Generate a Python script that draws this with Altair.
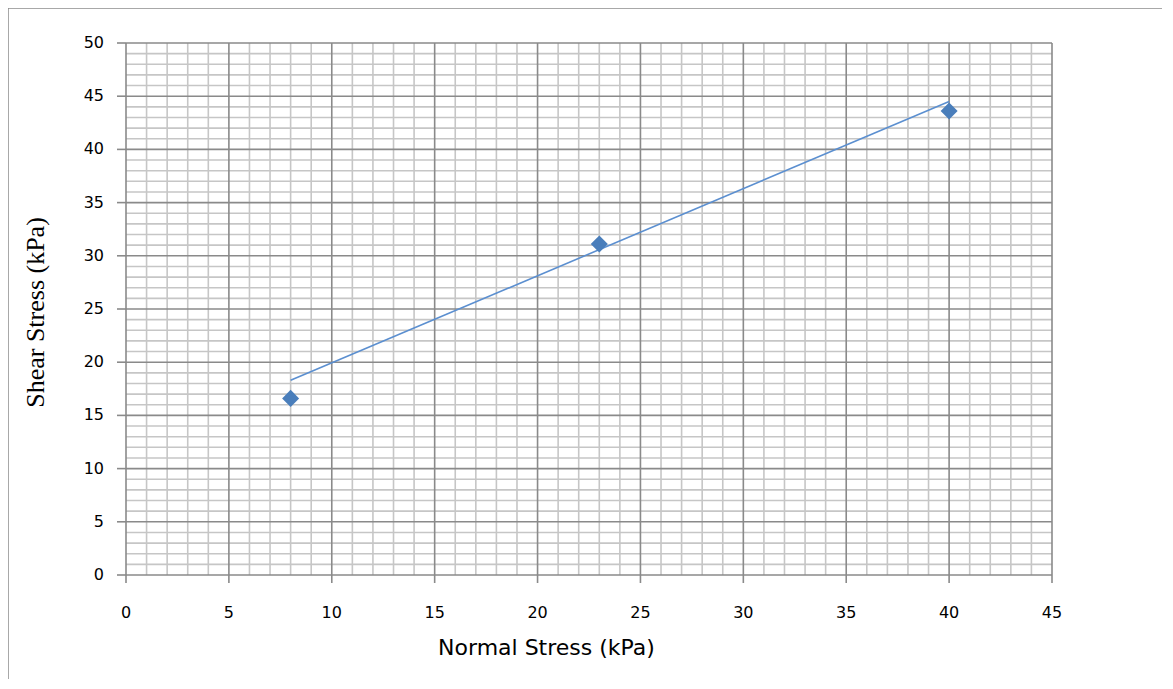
import altair as alt
import pandas as pd

# Data
normal_stress = [8, 23, 40]
shear_stress = [16.6, 31.1, 43.6]

# Trendline endpoints as drawn in the chart
trend_x = [8, 40]
trend_y = [18.3, 44.5]

# Axis tick values
x_major = list(range(0, 46, 5))
y_major = list(range(0, 51, 5))
x_minor = [v for v in range(0, 46) if v % 5]
y_minor = [v for v in range(0, 51) if v % 5]

W, H = 926, 532

pts = pd.DataFrame({"x": normal_stress, "y": shear_stress})
trend = pd.DataFrame({"x": trend_x, "y": trend_y})

x_scale = alt.Scale(domain=[0, 45], nice=False, zero=True)
y_scale = alt.Scale(domain=[0, 50], nice=False, zero=True)

MINOR = "#c6c6c6"
MAJOR = "#8a8a8a"

x_axis = alt.Axis(
    labels=False, ticks=False, domain=False, grid=False,
    title="Normal Stress (kPa)",
    titleFont="DejaVu Sans",
    titleFontSize=22,
    titleFontWeight="normal",
    titleColor="#000000",
    titleX=420,
    titleY=72,
    titleBaseline="middle",
    titleAnchor="middle",
)

y_axis = alt.Axis(
    labels=False, ticks=False, domain=False, grid=False,
    title="Shear Stress (kPa)",
    titleFont="Liberation Serif",
    titleFontSize=26,
    titleFontWeight="normal",
    titleColor="#000000",
    titleX=-91,
    titleY=269,
    titleAngle=-90,
    titleBaseline="middle",
    titleAnchor="middle",
)

def vrules(vals, color):
    return alt.Chart(pd.DataFrame({"x": vals})).mark_rule(color=color, strokeWidth=1.6).encode(
        x=alt.X("x:Q", scale=x_scale, axis=x_axis)
    )

def hrules(vals, color):
    return alt.Chart(pd.DataFrame({"y": vals})).mark_rule(color=color, strokeWidth=1.6).encode(
        y=alt.Y("y:Q", scale=y_scale, axis=y_axis)
    )

# tick marks outside the plot at major values
x_ticks = alt.Chart(pd.DataFrame({"x": x_major})).mark_rule(
    color=MAJOR, strokeWidth=1.6, clip=False
).encode(x=alt.X("x:Q", scale=x_scale, axis=x_axis), y=alt.value(H), y2=alt.value(H + 8))

y_ticks = alt.Chart(pd.DataFrame({"y": y_major})).mark_rule(
    color=MAJOR, strokeWidth=1.6, clip=False
).encode(y=alt.Y("y:Q", scale=y_scale, axis=y_axis), x=alt.value(-9), x2=alt.value(0))

x_labels = alt.Chart(pd.DataFrame({"x": x_major})).mark_text(
    font="DejaVu Sans", fontSize=16, color="#000000", align="center", baseline="middle", clip=False
).encode(x=alt.X("x:Q", scale=x_scale, axis=x_axis), y=alt.value(H + 38), text=alt.Text("x:Q"))

y_labels = alt.Chart(pd.DataFrame({"y": y_major})).mark_text(
    font="DejaVu Sans", fontSize=16, color="#000000", align="right", baseline="middle", clip=False
).encode(y=alt.Y("y:Q", scale=y_scale, axis=y_axis), x=alt.value(-22), text=alt.Text("y:Q"))

frame = alt.Chart(pd.DataFrame({"a": [0]})).mark_rect(
    fill=None, stroke="#8c8c8c", strokeWidth=1.5, clip=False
).encode(
    x=alt.value(-118), x2=alt.value(1100), y=alt.value(-35), y2=alt.value(720)
)

line = alt.Chart(trend).mark_line(color="#5b8fd0", strokeWidth=1.6).encode(
    x=alt.X("x:Q", scale=x_scale, axis=x_axis),
    y=alt.Y("y:Q", scale=y_scale, axis=y_axis),
)

points = alt.Chart(pts).mark_point(
    shape="diamond", filled=True, size=290, color="#4a7ebb", opacity=1
).encode(
    x=alt.X("x:Q", scale=x_scale, axis=x_axis),
    y=alt.Y("y:Q", scale=y_scale, axis=y_axis),
)

chart = alt.layer(
    vrules(x_minor, MINOR), hrules(y_minor, MINOR),
    vrules(x_major, MAJOR), hrules(y_major, MAJOR),
    x_ticks, y_ticks, x_labels, y_labels,
    line, points, frame
).properties(
    width=W,
    height=H,
    autosize=alt.AutoSizeParams(type="none"),
    padding={"left": 118, "top": 35, "right": 110, "bottom": 104},
).configure_view(stroke=None)

chart.save("out.html", embed_options={"renderer": "svg", "actions": False})
